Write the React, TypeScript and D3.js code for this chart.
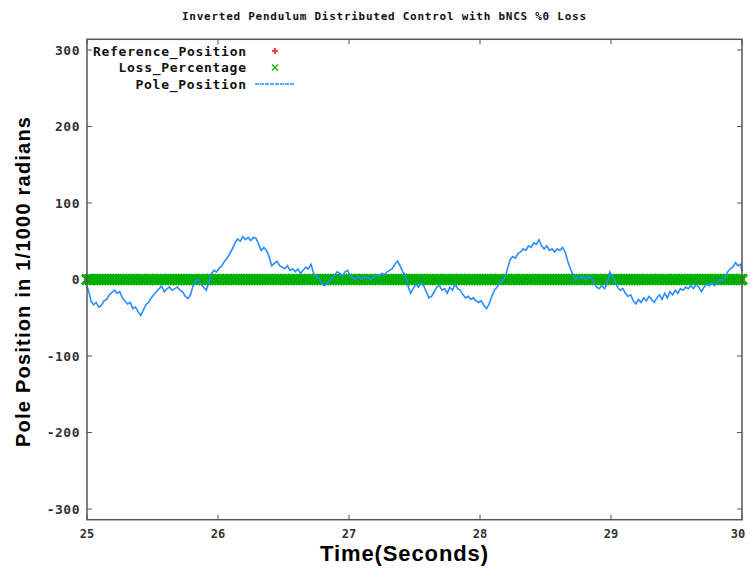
import React, { useRef, useEffect } from 'react';
import * as d3 from 'd3';

// Sample times (seconds) and pole position (1/1000 rad)
const poleTime = [
  25.0, 25.02, 25.03, 25.05, 25.07, 25.09, 25.11, 25.13, 25.15, 25.17, 25.19, 25.21, 25.23, 25.25, 25.27, 25.29,
  25.31, 25.33, 25.35, 25.37, 25.39, 25.41, 25.43, 25.45, 25.47, 25.49, 25.51, 25.53, 25.55, 25.57, 25.59, 25.61,
  25.63, 25.65, 25.67, 25.69, 25.71, 25.73, 25.75, 25.77, 25.79, 25.81, 25.83, 25.85, 25.87, 25.89, 25.91, 25.93,
  25.95, 25.97, 25.99, 26.01, 26.03, 26.05, 26.07, 26.09, 26.11, 26.13, 26.15, 26.17, 26.19, 26.21, 26.23, 26.25,
  26.27, 26.29, 26.31, 26.33, 26.35, 26.37, 26.39, 26.41, 26.43, 26.45, 26.47, 26.49, 26.51, 26.53, 26.55, 26.57,
  26.59, 26.61, 26.63, 26.65, 26.67, 26.69, 26.71, 26.73, 26.75, 26.77, 26.79, 26.81, 26.83, 26.85, 26.87, 26.89,
  26.91, 26.93, 26.95, 26.97, 26.99, 27.01, 27.03, 27.05, 27.07, 27.09, 27.11, 27.13, 27.15, 27.17, 27.19, 27.21,
  27.23, 27.25, 27.27, 27.29, 27.31, 27.33, 27.35, 27.37, 27.39, 27.41, 27.43, 27.45, 27.47, 27.49, 27.51, 27.53,
  27.55, 27.57, 27.59, 27.61, 27.63, 27.65, 27.67, 27.69, 27.71, 27.73, 27.75, 27.77, 27.79, 27.81, 27.83, 27.85,
  27.87, 27.89, 27.91, 27.93, 27.95, 27.97, 27.99, 28.01, 28.03, 28.05, 28.07, 28.09, 28.11, 28.13, 28.15, 28.17,
  28.19, 28.21, 28.23, 28.25, 28.27, 28.29, 28.31, 28.33, 28.35, 28.37, 28.39, 28.41, 28.43, 28.45, 28.47, 28.49,
  28.51, 28.53, 28.55, 28.57, 28.59, 28.61, 28.63, 28.65, 28.67, 28.69, 28.71, 28.73, 28.75, 28.77, 28.79, 28.81,
  28.83, 28.85, 28.87, 28.89, 28.91, 28.93, 28.95, 28.97, 28.99, 29.01, 29.03, 29.05, 29.07, 29.09, 29.11, 29.13,
  29.15, 29.17, 29.19, 29.21, 29.23, 29.25, 29.27, 29.29, 29.31, 29.33, 29.35, 29.37, 29.39, 29.41, 29.43, 29.45,
  29.47, 29.49, 29.51, 29.53, 29.55, 29.57, 29.59, 29.61, 29.63, 29.65, 29.67, 29.69, 29.71, 29.73, 29.75, 29.77,
  29.79, 29.81, 29.83, 29.85, 29.87, 29.89, 29.91, 29.93, 29.95, 29.97, 29.99, 30.0,
];
const polePosition = [
  -8, -20, -28, -33, -30, -36, -34, -28, -26, -20, -17, -14, -18, -16, -24, -28,
  -32, -30, -38, -36, -42, -47, -40, -33, -30, -24, -20, -16, -12, -9, -16, -12,
  -10, -14, -12, -10, -14, -16, -22, -25, -20, -8, -2, 0, -6, -10, -14, -4,
  8, 12, 10, 15, 18, 24, 28, 34, 40, 48, 53, 50, 56, 52, 55, 51,
  55, 54, 46, 38, 42, 38, 30, 18, 21, 24, 18, 16, 14, 18, 12, 14,
  10, 14, 8, 12, 16, 14, 20, 8, 4, 2, -4, -8, -6, -2, 2, 6,
  10, 8, 4, 10, 12, 4, 2, 0, 4, 0, 2, 4, 2, 0, 4, 6,
  4, 8, 6, 10, 12, 14, 20, 24, 18, 10, 6, -8, -18, -12, -6, -10,
  -4, -8, -16, -24, -22, -16, -10, -8, -14, -12, -18, -10, -14, -6, -12, -14,
  -20, -24, -22, -26, -24, -28, -30, -28, -34, -38, -32, -22, -14, -10, -4, -2,
  2, 14, 26, 30, 28, 34, 36, 40, 38, 44, 42, 48, 46, 52, 44, 40,
  44, 38, 40, 36, 40, 38, 42, 36, 24, 14, 6, 0, 4, 2, 4, 0,
  4, 2, -4, -10, -12, -8, -12, -6, 10, 4, -2, -10, -14, -12, -18, -22,
  -20, -28, -32, -26, -30, -24, -28, -22, -26, -30, -24, -20, -26, -18, -24, -16,
  -20, -14, -18, -12, -14, -10, -12, -8, -12, -6, -10, -16, -10, -6, -8, -4,
  -8, -4, 0, -2, 2, 10, 14, 16, 22, 18, 20, 10,
];
// Reference position and loss percentage are zero at every sample
const referencePosition = poleTime.map(() => 0);
const lossPercentage = poleTime.map(() => 0);

const xTicks = [25, 26, 27, 28, 29, 30];
const yTicks = [-300, -200, -100, 0, 100, 200, 300];
const legendLabels = ['Reference_Position', 'Loss_Percentage', 'Pole_Position'];

const W = 755;
const H = 571;
const mono = '"DejaVu Sans Mono", monospace';
const sans = '"Liberation Sans", Arial, sans-serif';

const App: React.FC = () => {
  const svgRef = useRef<SVGSVGElement>(null);

  useEffect(() => {
    if (!svgRef.current) return;
    const svg = d3.select(svgRef.current);
    svg.selectAll('*').remove();

    const x = d3.scaleLinear().domain([25, 30]).range([87, 742]);
    const y = d3.scaleLinear().domain([-300, 300]).range([509, 50]);
    const frameTop = y(314);
    const frameBottom = y(-314);

    svg.append('rect').attr('width', W).attr('height', H).attr('fill', '#fff');

    // title
    svg
      .append('text')
      .attr('x', 384)
      .attr('y', 20)
      .attr('text-anchor', 'middle')
      .attr('font-family', mono)
      .attr('font-weight', 'bold')
      .attr('font-size', 11)
      .attr('textLength', 404)
      .attr('fill', '#111')
      .text('Inverted Pendulum Distributed Control with bNCS %0 Loss');

    // ticks
    const tickColor = '#555';
    yTicks.forEach((t) => {
      svg.append('line').attr('x1', x(25)).attr('x2', x(25) + 5).attr('y1', y(t)).attr('y2', y(t)).attr('stroke', tickColor);
      svg.append('line').attr('x1', x(30)).attr('x2', x(30) - 5).attr('y1', y(t)).attr('y2', y(t)).attr('stroke', tickColor);
      svg
        .append('text')
        .attr('x', 80)
        .attr('y', y(t))
        .attr('dy', '0.36em')
        .attr('text-anchor', 'end')
        .attr('font-family', mono)
        .attr('font-weight', 'bold')
        .attr('font-size', 13)
        .attr('letter-spacing', 0.5)
        .attr('fill', '#333')
        .text(String(t));
    });
    xTicks.forEach((t) => {
      svg.append('line').attr('x1', x(t)).attr('x2', x(t)).attr('y1', frameBottom).attr('y2', frameBottom - 5).attr('stroke', tickColor);
      svg.append('line').attr('x1', x(t)).attr('x2', x(t)).attr('y1', frameTop).attr('y2', frameTop + 5).attr('stroke', tickColor);
      svg
        .append('text')
        .attr('x', x(t) - (t === 30 ? 4 : 0))
        .attr('y', 538)
        .attr('text-anchor', 'middle')
        .attr('font-family', mono)
        .attr('font-weight', 'bold')
        .attr('font-size', 12)
        .attr('fill', '#333')
        .text(String(t));
    });

    // reference position (red plus) and loss percentage (green cross) markers
    const refG = svg.append('g');
    referencePosition.forEach((v, i) => {
      const cx = x(poleTime[i]);
      const cy = y(v);
      refG.append('path').attr('d', `M${cx - 3},${cy}H${cx + 3}M${cx},${cy - 3}V${cy + 3}`).attr('stroke', '#ff3030').attr('stroke-width', 2);
    });
    const lossG = svg.append('g');
    lossPercentage.forEach((v, i) => {
      const cx = x(poleTime[i]);
      const cy = y(v);
      lossG
        .append('path')
        .attr('d', `M${cx - 5},${cy - 5}L${cx + 5},${cy + 5}M${cx - 5},${cy + 5}L${cx + 5},${cy - 5}`)
        .attr('stroke', '#00b000')
        .attr('stroke-width', 3);
    });

    // pole position line
    const line = d3
      .line<number>()
      .x((_, i) => x(poleTime[i]))
      .y((d) => y(d));
    svg
      .append('path')
      .datum(polePosition)
      .attr('d', line)
      .attr('fill', 'none')
      .attr('stroke', '#2b8cff')
      .attr('stroke-width', 1.6);

    // frame
    svg
      .append('rect')
      .attr('x', x(25))
      .attr('y', frameTop)
      .attr('width', x(30) - x(25))
      .attr('height', frameBottom - frameTop)
      .attr('fill', 'none')
      .attr('stroke', '#555')
      .attr('stroke-width', 1.5);

    // legend
    legendLabels.forEach((label, i) => {
      const ly = 51 + i * 16.5;
      svg
        .append('text')
        .attr('x', 246)
        .attr('y', ly)
        .attr('dy', '0.36em')
        .attr('text-anchor', 'end')
        .attr('font-family', mono)
        .attr('font-weight', 'bold')
        .attr('font-size', 13)
        .attr('textLength', label.length * 8.5)
        .attr('fill', '#111')
        .text(label);
    });
    svg.append('path').attr('d', `M272,51H278M275,48V54`).attr('stroke', '#ff4040').attr('stroke-width', 2);
    svg.append('path').attr('d', `M272,64.5L278,70.5M272,70.5L278,64.5`).attr('stroke', '#20c020').attr('stroke-width', 1.6);
    svg
      .append('line')
      .attr('x1', 255)
      .attr('x2', 295)
      .attr('y1', 84)
      .attr('y2', 84)
      .attr('stroke', '#2b8cff')
      .attr('stroke-width', 1.5)
      .attr('stroke-dasharray', '4,1');

    // axis labels
    svg
      .append('text')
      .attr('x', 404)
      .attr('y', 561)
      .attr('text-anchor', 'middle')
      .attr('font-family', sans)
      .attr('font-weight', 'bold')
      .attr('font-size', 22)
      .attr('textLength', 168)
      .attr('fill', '#000')
      .text('Time(Seconds)');
    svg
      .append('text')
      .attr('transform', `translate(30,282) rotate(-90)`)
      .attr('text-anchor', 'middle')
      .attr('font-family', sans)
      .attr('font-weight', 'bold')
      .attr('font-size', 20)
      .attr('textLength', 330)
      .attr('fill', '#000')
      .text('Pole Position in 1/1000 radians');
  }, []);

  return (
    <svg
      ref={svgRef}
      width={W}
      height={H}
      style={{ position: 'absolute', left: 0, top: 0, display: 'block' }}
    />
  );
};

export default App;
